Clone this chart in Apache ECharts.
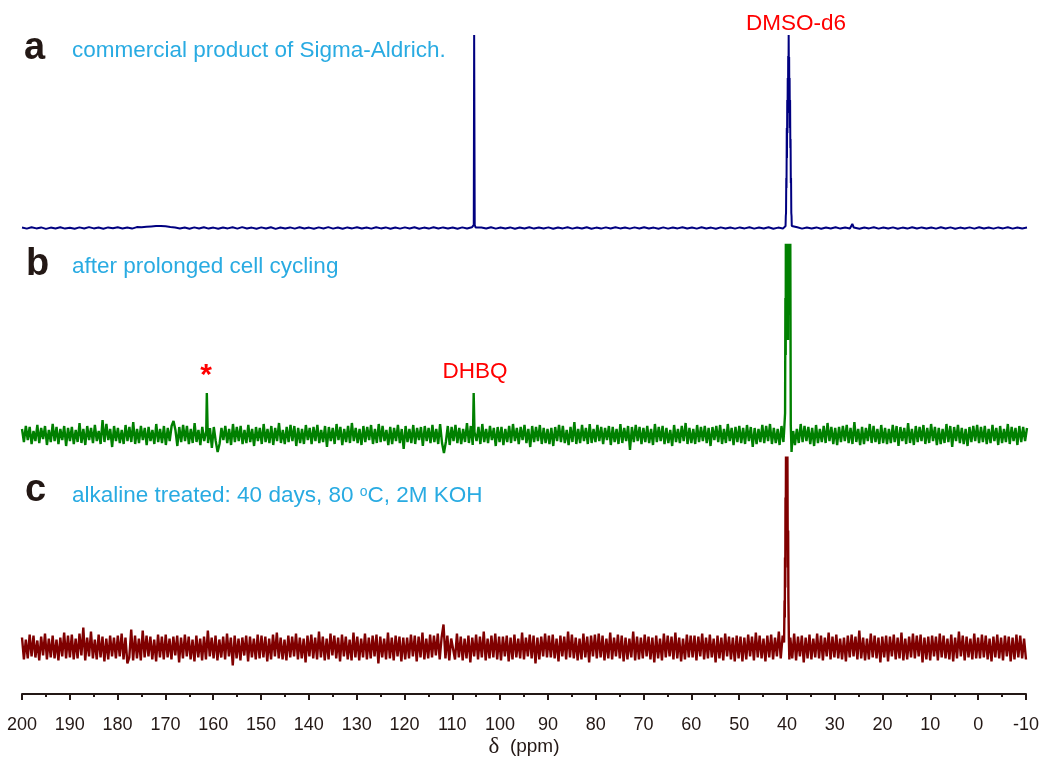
<!DOCTYPE html>
<html>
<head>
<meta charset="utf-8">
<title>13C NMR spectra</title>
<script src="https://cdn.jsdelivr.net/npm/echarts@6/dist/echarts.min.js"></script>
<style>
  html, body { margin: 0; padding: 0; background: #ffffff; }
  #chart { width: 1042px; height: 764px; }
</style>
</head>
<body>
<div id="chart"></div>
<script>
// Chemical shift range (ppm), axis runs high -> low
const ppmMax = 200;
const ppmMin = -10;
const ppmTickStep = 10;

// Panel captions
const panelLetters = ['a', 'b', 'c'];
const panelCaptions = [
  'commercial product of Sigma-Aldrich.',
  'after prolonged cell cycling',
  'alkaline treated: 40 days, 80 {sup|o}C, 2M KOH'
];
const peakLabels = ['DMSO-d6', '*', 'DHBQ'];

// Spectrum a: baseline samples (1 ppm spacing, 200 -> -10 ppm), intensity a.u.
const baselineA = [
  0.5,-0.6,0.8,-0.4,0.6,-0.9,0.4,-0.5,0.7,-0.6,
  0.3,-0.8,0.6,-0.5,0.9,-0.4,0.5,-0.7,0.6,-0.3,
  0.7,-0.5,0.4,-0.6,0.9,0.8,1.2,1.6,2.0,2.1,
  1.7,1.1,0.6,-0.4,0.5,-0.7,0.6,-0.5,0.8,-0.6,
  0.4,-0.8,0.5,-0.4,0.7,-0.6,0.9,-0.5,0.4,-0.7,
  0.6,-0.5,0.8,-0.9,0.5,-0.4,0.6,-0.6,0.7,-0.5,
  0.4,-0.7,0.6,-0.5,0.9,-0.6,0.5,-0.8,0.6,-0.4,
  0.7,-0.5,0.5,-0.6,0.8,-0.4,0.6,-0.7,0.5,-0.6,
  0.6,-0.5,0.7,-0.8,0.4,-0.6,0.8,-0.5,0.6,-0.4,
  0.5,-0.7,0.6,-0.5,0.7,-0.6,0.4,-0.5,0.8,-0.6,
  0.5,-0.4,0.6,-0.7,0.5,-0.5,0.7,-0.6,0.4,-0.5,
  0.6,-0.8,0.5,-0.4,0.7,-0.6,0.5,-0.5,0.8,-0.7,
  0.4,-0.6,0.6,-0.5,0.7,-0.4,0.5,-0.6,0.6,-0.5,
  0.7,-0.5,0.4,-0.7,0.6,-0.6,0.5,-0.4,0.8,-0.5,
  0.5,-0.6,0.7,-0.5,0.4,-0.8,0.6,-0.5,0.5,-0.6,
  0.6,-0.4,0.7,-0.6,0.5,-0.5,0.8,-0.7,0.4,-0.6,
  0.6,-0.5,0.7,-0.6,0.5,-0.4,0.6,-0.7,0.5,-0.5,
  0.7,-0.6,0.4,-0.5,0.6,-0.8,0.5,-0.4,0.7,-0.6,
  0.5,-0.5,0.6,-0.7,0.4,-0.6,0.8,-0.5,0.6,-0.4,
  0.5,-0.6,0.7,-0.5,0.6,-0.7,0.4,-0.5,0.6,-0.6,
  0.7,-0.5,0.5,-0.6,0.6,-0.4,0.7,-0.6,0.5,-0.5,0.4
];
// Spectrum a: resolved signals [ppm, intensity]; the solvent multiplet is drawn line by line
const peaksA = [
  [[105.8,0.4],[105.6,3],[105.52,193],[105.45,193],[105.4,3],[105.2,0.4]],
  [[40.45,2],[40.40,12],[40.35,15],[40.30,50],[40.25,40],[40.20,100],[40.15,70],[40.10,128],[40.05,95],
   [40.00,150],[39.95,115],[39.90,172],[39.85,140],[39.80,193],[39.75,150],[39.70,171],[39.65,120],
   [39.60,150],[39.55,100],[39.50,128],[39.45,80],[39.40,89],[39.35,45],[39.30,50],[39.25,15],
   [39.20,12],[39.15,2],[38.95,0.5]],
  [[26.8,0.5],[26.5,4],[26.2,0.5]]
];

// Spectrum b: baseline samples (uniform spacing, 200 -> -10 ppm)
const baselineB = [
  6,-7,9,-5,8,-9,4,-6,10,-8,7,-4,9,-10,5,-7,11,-6,8,-9,6,-5,9,-11,7,
  -6,8,-9,5,-7,12,-8,6,-10,9,-5,7,-8,10,-6,4,-9,15,-7,11,-5,6,-12,9,-6,
  7,-8,5,-9,10,-6,8,-7,13,-9,6,-8,9,-5,7,-10,8,-6,5,-9,11,-7,6,-8,9,
  -10,7,-6,9,14,5,-11,8,-7,10,-6,9,-9,6,-8,12,-7,5,-10,8,-6,9,-8,7,-13,
  8,-6,-17,-9,7,-5,9,-8,6,-10,11,-7,8,-6,9,-9,5,-8,10,-7,6,-11,8,-6,7,
  -9,11,-7,6,-8,9,-10,7,-6,12,-8,5,-9,8,-7,10,-6,9,-11,7,-8,6,-9,10,-5,
  7,-9,8,-6,10,-8,5,-7,9,-12,8,-6,7,-9,11,-5,8,-10,6,-7,9,-8,12,-6,7,
  -8,6,-10,9,-7,8,-5,10,-9,6,-8,11,-7,9,-6,5,-10,8,-9,7,-6,10,-8,6,-14,
  9,-7,6,-8,10,-9,7,-5,8,-11,9,-6,7,-8,10,-7,6,-9,11,-8,-18,-7,9,-10,8,
  -6,10,-8,7,-9,6,-7,12,-8,9,-10,5,-6,8,-9,11,-7,6,-8,9,-5,7,-11,8,-7,
  8,-10,6,-7,9,-8,11,-6,7,-9,8,-5,10,-8,6,-12,9,-7,8,-6,10,-9,7,-8,6,
  -9,7,-11,8,-6,10,-7,9,-8,5,-10,8,-7,13,-9,6,-8,10,-6,7,-9,11,-8,6,-7,
  10,-6,8,-9,7,-5,9,-10,8,-7,6,-9,11,-8,7,-6,9,-15,8,-7,10,-6,8,-9,7,
  -7,9,-8,6,-10,11,-7,8,-6,9,-9,7,-8,5,-11,10,-7,6,-8,9,-6,12,-9,7,-8,
  6,-9,10,-7,8,-6,9,-8,7,-11,8,-5,9,-7,10,-9,6,-8,11,-6,7,-10,8,-7,9,
  -8,7,-9,10,-6,8,-12,7,-9,6,-7,10,-8,9,-6,11,-9,7,-8,6,-10,9,-7,8,-6,
  9,-7,8,-10,6,-8,11,-7,9,-6,8,-9,7,-11,10,-8,6,-7,9,-8,12,-6,8,-9,7,
  -10,8,-7,9,-6,10,-8,7,-9,13,-7,6,-10,8,-9,7,-6,11,-8,9,-7,6,-9,10,-8,
  7,-9,6,-8,10,-7,9,-11,8,-6,7,-9,12,-8,6,-10,9,-7,8,-6,10,-9,7,-8,11,
  -6,8,-10,7,-9,6,-8,11,-7,9,-12,8,-6,10,-8,7,-9,6,-11,8,-7,9,-6,10,-8,
  8,-7,9,-9,6,-8,10,-6,7,-10,9,-8,6,-7,11,-9,8,-6,7,-10,9,-7,8,-6,7
];
// Spectrum b: resolved signals (solvent line runs off scale)
const peaksB = [
  [[161.5,4],[161.38,42],[161.3,42],[161.2,3]],
  [[105.75,5],[105.62,42],[105.55,42],[105.45,3]],
  [[40.75,4],[40.55,22],[40.48,137],[40.42,80],[40.36,300],[40.30,120],[40.24,300],[40.18,150],
   [40.12,300],[40.06,130],[40.00,300],[39.94,95],[39.88,300],[39.82,140],[39.76,300],[39.70,150],
   [39.64,300],[39.58,120],[39.52,300],[39.46,300],[39.36,10],[39.2,-17],[39.05,-6],[38.85,4]]
];

// Spectrum c: baseline samples (uniform spacing, 200 -> -10 ppm)
const baselineC = [
  10,-12,8,-11,13,-9,12,-10,7,-13,11,-8,14,-12,9,-10,12,-11,8,-13,10,-9,15,-11,12,
  -10,13,-12,9,-11,14,-8,20,-13,10,-9,16,-11,8,-12,13,-10,11,-14,9,-12,12,-9,10,-11,
  12,-9,14,-12,10,-16,-10,18,-13,12,-11,9,-13,17,-10,12,-9,11,-12,8,-14,13,-10,11,-12,
  13,-10,9,-12,11,-8,12,-15,10,-11,13,-9,11,-12,8,-14,12,-10,9,-13,11,-12,17,-9,10,
  -11,12,-13,8,-10,11,-12,14,-9,10,-18,12,-11,9,-13,10,-8,12,-14,11,-10,9,-12,13,-11,
  12,-10,11,-14,9,-12,13,-9,15,-11,10,-12,8,-13,12,-10,11,-9,14,-12,10,-11,9,-15,12,
  -9,13,-11,10,-12,16,-10,11,-13,9,-12,14,-8,12,-11,10,-14,13,-9,11,-12,8,-13,15,-10,
  11,-13,9,-10,14,-12,10,-11,12,-9,13,-16,11,-10,9,-12,15,-11,10,-13,12,-9,11,-14,10,
  -12,10,-11,13,-9,12,-14,11,-10,15,-12,9,-11,13,-10,12,-8,14,-12,10,23,-11,12,-13,9,
  10,-12,14,-10,11,-13,9,-11,12,-15,10,-9,13,-12,11,-10,16,-13,9,-11,12,-10,14,-12,11,
  -13,11,-9,12,-14,10,-12,13,-10,9,-11,15,-12,10,-9,13,-11,12,-16,10,-12,11,-9,14,-10,
  12,-10,13,-11,9,-14,12,-9,11,-12,16,-10,13,-11,10,-13,9,-12,14,-10,11,-15,12,-9,13,
  -11,14,-10,12,-13,9,-11,15,-12,10,-9,13,-11,12,-14,10,-12,9,-10,16,-13,11,-12,10,-11,
  13,-9,11,-12,10,-15,12,-11,9,-13,14,-10,12,-9,11,-12,15,-11,10,-14,9,-12,13,-10,12,
  -10,12,-13,11,-9,14,-12,10,-11,13,-10,9,-15,12,-11,10,-13,14,-9,11,-12,10,-14,12,-11,
  11,-14,10,-12,13,-9,11,-13,15,-10,12,-11,9,-14,12,-10,13,-12,10,-9,16,-11,12,-13,10,
  -12,10,-11,14,-13,11,-9,12,-15,10,-11,13,-12,9,-10,14,-11,12,-13,10,-9,15,-12,11,-10,
  13,-11,9,-12,10,-14,12,-10,13,-9,11,-12,17,-11,10,-13,9,-12,14,-10,12,-11,10,-15,11,
  -10,12,-14,11,-9,13,-12,10,-11,15,-13,9,-12,11,-10,14,-11,12,-9,13,-15,10,-12,11,-13,
  12,-9,11,-13,14,-10,12,-11,9,-12,13,-14,10,-11,16,-9,12,-13,11,-10,9,-12,14,-11,10,
  -11,13,-10,12,-12,9,-14,11,-10,13,-11,10,-13,12,-9,11,-14,10,-12,13,-10,12,-11,9,-12
];
// Spectrum c: resolved signals
const peaksC = [
  [[40.60,5],[40.50,47],[40.45,30],[40.40,90],[40.35,60],[40.30,150],[40.25,110],[40.20,191],
   [40.15,150],[40.10,191],[40.05,140],[40.00,191],[39.95,150],[39.90,191],[39.85,117],[39.80,80],
   [39.75,117],[39.70,50],[39.65,30],[39.60,10],[39.50,-12],[39.35,4]]
];

// Merge evenly sampled baseline with the resolved lines into one [ppm, I] trace
function buildTrace(baseline, peaks) {
  const step = (ppmMax - ppmMin) / (baseline.length - 1);
  const spans = peaks.map(p => {
    const xs = p.map(q => q[0]);
    return [Math.min.apply(null, xs), Math.max.apply(null, xs)];
  });
  const pts = [];
  baseline.forEach((v, i) => {
    const x = ppmMax - i * step;
    const inside = spans.some(s => x >= s[0] - 0.05 && x <= s[1] + 0.05);
    if (!inside) pts.push([x, v]);
  });
  peaks.forEach(p => p.forEach(q => pts.push([q[0], q[1]])));
  pts.sort((a, b) => b[0] - a[0]);
  return pts;
}

const traceA = buildTrace(baselineA, peaksA);
const traceB = buildTrace(baselineB, peaksB);
const traceC = buildTrace(baselineC, peaksC);

const chart = echarts.init(document.getElementById('chart'), null, { renderer: 'canvas' });

const sans = '"Liberation Sans", Arial, sans-serif';
const ink = '#231815';
const captionBlue = '#29abe2';
const labelRed = '#ff0000';

function hiddenX(gridIndex) {
  return { type: 'value', gridIndex: gridIndex, min: ppmMin, max: ppmMax, inverse: true, show: false };
}

function textEl(x, y, text, size, color, weight, align, rich) {
  return {
    type: 'text', x: x, y: y, silent: true,
    style: {
      text: text, fontSize: size, fontFamily: sans, fontWeight: weight || 'normal',
      fill: color, align: align || 'left', verticalAlign: 'middle',
      textAlign: align || 'left', textVerticalAlign: 'middle', rich: rich
    }
  };
}

const option = {
  animation: false,
  backgroundColor: '#ffffff',
  grid: [
    { left: 22, right: 15, top: 20, height: 220 },
    { left: 22, right: 15, top: 245, height: 213 },
    { left: 22, right: 15, top: 452, height: 242 }
  ],
  xAxis: [
    hiddenX(0),
    hiddenX(1),
    {
      type: 'value', gridIndex: 2, min: ppmMin, max: ppmMax, interval: ppmTickStep, inverse: true,
      name: '{d|δ}  (ppm)', nameLocation: 'middle', nameGap: 41,
      nameTextStyle: {
        fontSize: 19, fontFamily: sans, color: ink,
        rich: { d: { fontSize: 23, fontFamily: '"Liberation Serif", "Times New Roman", serif', color: ink } }
      },
      axisLine: { show: true, onZero: false, lineStyle: { color: ink, width: 2 } },
      axisTick: { show: true, length: 6, lineStyle: { color: ink, width: 2 } },
      minorTick: { show: true, splitNumber: 2, length: 3, lineStyle: { color: ink, width: 2 } },
      axisLabel: { fontSize: 18, fontFamily: sans, color: ink, margin: 22 },
      splitLine: { show: false },
      minorSplitLine: { show: false }
    }
  ],
  yAxis: [
    { type: 'value', gridIndex: 0, min: -12, max: 208, show: false },
    { type: 'value', gridIndex: 1, min: -23, max: 190, show: false },
    { type: 'value', gridIndex: 2, min: -46.5, max: 195.5, show: false }
  ],
  series: [
    { type: 'line', xAxisIndex: 0, yAxisIndex: 0, data: traceA, symbol: 'none', clip: true,
      lineStyle: { color: '#000080', width: 2 }, itemStyle: { color: '#000080' } },
    { type: 'line', xAxisIndex: 1, yAxisIndex: 1, data: traceB, symbol: 'none', clip: true,
      lineStyle: { color: '#008000', width: 2.4 }, itemStyle: { color: '#008000' } },
    { type: 'line', xAxisIndex: 2, yAxisIndex: 2, data: traceC, symbol: 'none', clip: true,
      lineStyle: { color: '#800000', width: 2.4 }, itemStyle: { color: '#800000' } }
  ],
  graphic: [
    textEl(24, 49, panelLetters[0], 38, ink, 'bold'),
    textEl(72, 51, panelCaptions[0], 22.5, captionBlue),
    textEl(26, 265, panelLetters[1], 38, ink, 'bold'),
    textEl(72, 267, panelCaptions[1], 22.5, captionBlue),
    textEl(25, 491, panelLetters[2], 38, ink, 'bold'),
    textEl(72, 496, panelCaptions[2], 22.5, captionBlue, 'normal', 'left',
      { sup: { fontSize: 14, fontFamily: sans, fill: captionBlue, color: captionBlue, padding: [0, 0, 7, 0] } }),
    textEl(796, 24, peakLabels[0], 22.5, labelRed, 'normal', 'center'),
    textEl(206, 376, peakLabels[1], 30, labelRed, 'bold', 'center'),
    textEl(475, 372, peakLabels[2], 22.5, labelRed, 'normal', 'center')
  ]
};

chart.setOption(option);
</script>
</body>
</html>
